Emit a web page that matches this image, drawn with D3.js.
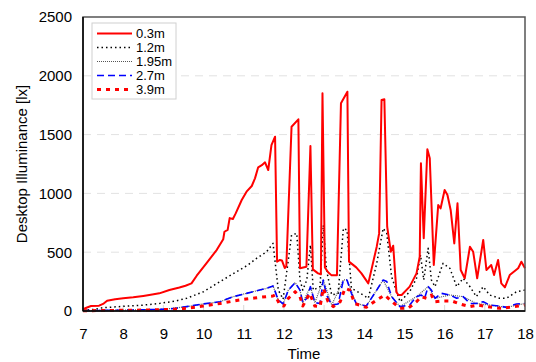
<!DOCTYPE html>
<html>
<head>
<meta charset="utf-8">
<script src="https://cdn.jsdelivr.net/npm/d3@7"></script>
<style>
  body { margin: 0; background: #fff; }
  svg text { font-family: "Liberation Sans", Arial, sans-serif; fill: #000; }
</style>
</head>
<body>
<svg id="chart" width="536" height="362"></svg>
<script>
// sensor distance from window
const seriesNames = ["0.3m", "1.2m", "1.95m", "2.7m", "3.9m"];
const xTicks = [7, 8, 9, 10, 11, 12, 13, 14, 15, 16, 17, 18];
const yTicks = [0, 500, 1000, 1500, 2000, 2500];

// 0.3m
const time03 = [7.0, 7.1, 7.2, 7.4, 7.5, 7.6, 7.8, 8.0, 8.25, 8.5, 8.65, 8.9, 9.15, 9.4, 9.55, 9.7, 9.83, 10.07, 10.33, 10.49, 10.52, 10.6, 10.65, 10.73, 10.8, 10.95, 11.07, 11.2, 11.28, 11.36, 11.45, 11.53, 11.61, 11.69, 11.78, 11.83, 11.9, 11.95, 12.02, 12.06, 12.19, 12.36, 12.4, 12.56, 12.66, 12.72, 12.85, 12.92, 12.96, 13.02, 13.1, 13.18, 13.32, 13.42, 13.58, 13.62, 13.8, 13.93, 14.1, 14.31, 14.37, 14.43, 14.5, 14.57, 14.66, 14.72, 14.8, 14.85, 14.93, 15.13, 15.3, 15.38, 15.41, 15.48, 15.57, 15.63, 15.73, 15.84, 15.9, 16.0, 16.07, 16.15, 16.24, 16.32, 16.4, 16.5, 16.63, 16.71, 16.81, 16.96, 17.04, 17.16, 17.23, 17.33, 17.41, 17.5, 17.62, 17.83, 17.91, 18.0];
const lux03 = [15, 30, 42, 45, 60, 88, 100, 108, 116, 128, 136, 150, 178, 200, 215, 235, 300, 405, 520, 610, 674, 690, 790, 782, 830, 944, 1015, 1063, 1128, 1222, 1240, 1264, 1199, 1411, 1482, 419, 434, 430, 366, 380, 1567, 1630, 363, 377, 1403, 354, 320, 312, 1851, 370, 330, 305, 305, 1766, 1865, 420, 371, 320, 235, 547, 660, 1794, 1800, 717, 504, 555, 160, 136, 136, 207, 320, 462, 1256, 618, 1375, 1298, 391, 901, 873, 1029, 986, 859, 575, 916, 349, 278, 547, 504, 278, 604, 349, 391, 306, 434, 235, 201, 306, 363, 419, 363];

// 1.2m
const time12 = [7.0, 7.3, 7.5, 8.1, 8.5, 8.92, 9.3, 9.58, 10.0, 10.41, 10.82, 11.1, 11.32, 11.57, 11.73, 11.86, 11.98, 12.11, 12.19, 12.32, 12.4, 12.47, 12.57, 12.66, 12.73, 12.9, 12.98, 13.06, 13.19, 13.35, 13.48, 13.57, 13.68, 13.97, 14.1, 14.31, 14.47, 14.56, 14.68, 14.89, 15.13, 15.3, 15.4, 15.48, 15.59, 15.67, 15.76, 15.96, 16.13, 16.3, 16.46, 16.63, 16.79, 16.96, 17.12, 17.37, 17.54, 17.79, 18.0];
const lux12 = [5, 15, 28, 42, 50, 65, 85, 108, 164, 250, 334, 390, 448, 504, 575, 178, 100, 434, 646, 660, 264, 178, 264, 561, 178, 207, 731, 349, 136, 150, 703, 689, 193, 136, 108, 405, 703, 660, 292, 79, 164, 278, 476, 264, 533, 264, 207, 405, 363, 207, 278, 207, 122, 207, 136, 108, 108, 164, 178];

// 1.95m (mostly hidden under the 2.7m / 3.9m lines)
const time195 = [7.0, 8.0, 9.0, 9.58, 9.99, 10.41, 10.74, 11.07, 11.57, 11.73, 11.86, 11.98, 12.11, 12.28, 12.4, 12.47, 12.66, 12.77, 12.98, 13.19, 13.48, 13.57, 13.8, 14.05, 14.31, 14.47, 14.68, 14.89, 15.3, 15.59, 15.76, 16.13, 16.46, 16.79, 17.12, 17.54, 18.0];
const lux195 = [3, 8, 14, 37, 60, 79, 122, 150, 193, 213, 94, 60, 178, 241, 178, 71, 207, 71, 264, 51, 264, 264, 64, 42, 178, 264, 122, 37, 122, 207, 108, 136, 122, 64, 51, 31, 64];

// 2.7m
const time27 = [7.0, 7.5, 8.0, 8.5, 8.92, 9.3, 9.58, 9.99, 10.41, 10.74, 11.07, 11.57, 11.73, 11.86, 11.98, 12.11, 12.28, 12.4, 12.47, 12.57, 12.66, 12.77, 12.9, 12.98, 13.06, 13.19, 13.35, 13.48, 13.57, 13.68, 13.8, 14.05, 14.31, 14.47, 14.56, 14.68, 14.89, 15.13, 15.3, 15.42, 15.5, 15.59, 15.67, 15.76, 15.92, 16.13, 16.3, 16.46, 16.63, 16.79, 16.96, 17.12, 17.37, 17.54, 17.79, 18.0];
const lux27 = [3, 5, 8, 10, 14, 22, 37, 60, 79, 122, 150, 193, 213, 94, 60, 178, 241, 178, 71, 108, 207, 71, 64, 264, 136, 51, 60, 264, 264, 150, 64, 42, 178, 264, 250, 122, 37, 51, 122, 136, 108, 207, 178, 108, 150, 136, 108, 122, 64, 64, 79, 51, 42, 31, 60, 64];

// 3.9m
const time39 = [7.0, 7.5, 8.0, 8.5, 9.0, 9.3, 9.58, 9.99, 10.41, 10.9, 11.4, 11.73, 11.78, 11.9, 12.0, 12.11, 12.28, 12.4, 12.47, 12.64, 12.77, 12.9, 12.98, 13.1, 13.23, 13.4, 13.52, 13.64, 13.76, 14.05, 14.31, 14.51, 14.64, 14.89, 15.09, 15.3, 15.42, 15.55, 15.67, 15.76, 15.96, 16.17, 16.38, 16.63, 16.83, 17.04, 17.37, 17.62, 17.83, 18.0];
const lux39 = [2, 4, 6, 8, 12, 16, 23, 42, 64, 94, 116, 128, 136, 51, 42, 108, 164, 122, 42, 150, 42, 37, 193, 79, 37, 79, 193, 178, 64, 31, 94, 136, 94, 23, 23, 79, 122, 108, 136, 79, 86, 86, 60, 37, 51, 37, 23, 31, 42, 51];

const series = [
  { name: seriesNames[2], t: time195, v: lux195, color: "#555", width: 1.2, dash: "1 1" },
  { name: seriesNames[1], t: time12, v: lux12, color: "#000", width: 1.5, dash: "1.5 3" },
  { name: seriesNames[3], t: time27, v: lux27, color: "#0000ff", width: 1.6, dash: "7 4" },
  { name: seriesNames[4], t: time39, v: lux39, color: "#ff0000", width: 3, dash: "4 5" },
  { name: seriesNames[0], t: time03, v: lux03, color: "#ff0000", width: 2, dash: null }
];

const margin = { top: 17, right: 11, bottom: 51, left: 83 };
const width = 536 - margin.left - margin.right;
const height = 362 - margin.top - margin.bottom;

const svg = d3.select("#chart");
const g = svg.append("g")
  .attr("transform", `translate(${margin.left},${margin.top})`);

const xScale = d3.scaleLinear().domain([7, 18]).range([0, width]);
const yScale = d3.scaleLinear().domain([0, 2500]).range([height, 0]);

// horizontal dashed grid
g.append("g")
  .selectAll("line")
  .data(yTicks.filter(d => d > 0 && d < 2500))
  .join("line")
  .attr("x1", 0)
  .attr("x2", width)
  .attr("y1", d => yScale(d))
  .attr("y2", d => yScale(d))
  .attr("stroke", "#e2e2e2")
  .attr("stroke-dasharray", "8 6");

// faint inner hour ticks
g.append("g")
  .selectAll("line")
  .data(xTicks.slice(1, -1))
  .join("line")
  .attr("x1", d => xScale(d))
  .attr("x2", d => xScale(d))
  .attr("y1", height)
  .attr("y2", height - 6)
  .attr("stroke", "#d8d8d8");

// lines
const line = d3.line()
  .x(d => xScale(d[0]))
  .y(d => yScale(d[1]));

series.forEach(s => {
  g.append("path")
    .datum(s.t.map((t, i) => [t, s.v[i]]))
    .attr("fill", "none")
    .attr("stroke", s.color)
    .attr("stroke-width", s.width)
    .attr("stroke-dasharray", s.dash)
    .attr("stroke-linejoin", "round")
    .attr("d", line);
});

// frame: dark top/right, black left/bottom
g.append("rect")
  .attr("width", width)
  .attr("height", height)
  .attr("fill", "none")
  .attr("stroke", "#555")
  .attr("stroke-width", 1.5);
g.append("line").attr("x1", 0).attr("x2", 0).attr("y1", 0).attr("y2", height)
  .attr("stroke", "#000").attr("stroke-width", 1.5);
g.append("line").attr("x1", 0).attr("x2", width).attr("y1", height).attr("y2", height)
  .attr("stroke", "#000").attr("stroke-width", 1.5);

// axes (labels only)
const xAxis = g.append("g")
  .attr("transform", `translate(0,${height})`)
  .call(d3.axisBottom(xScale).tickValues(xTicks).tickSize(0).tickPadding(17).tickFormat(d3.format("d")));
const yAxis = g.append("g")
  .call(d3.axisLeft(yScale).tickValues(yTicks).tickSize(0).tickPadding(11).tickFormat(d3.format("d")));
[xAxis, yAxis].forEach(a => {
  a.select(".domain").remove();
  a.selectAll("text").style("font-size", "15px").style("font-family", '"Liberation Sans", Arial, sans-serif').attr("fill", "#000");
});

// axis titles
svg.append("text")
  .attr("x", margin.left + width / 2)
  .attr("y", 359)
  .attr("text-anchor", "middle")
  .style("font-size", "15px")
  .text("Time");

svg.append("text")
  .attr("transform", `translate(27,${margin.top + height / 2}) rotate(-90)`)
  .attr("text-anchor", "middle")
  .style("font-size", "15px")
  .text("Desktop Illuminance  [lx]");

// legend
const legendItems = [series[4], series[1], series[0], series[2], series[3]];
const legend = svg.append("g").attr("transform", "translate(92,23)");
legend.append("rect")
  .attr("width", 84)
  .attr("height", 76)
  .attr("fill", "#fff")
  .attr("stroke", "#d0d0d0");
legendItems.forEach((s, i) => {
  const yy = 10.5 + i * 14;
  legend.append("line")
    .attr("x1", 5).attr("x2", 40)
    .attr("y1", yy).attr("y2", yy)
    .attr("stroke", s.color)
    .attr("stroke-width", s.width)
    .attr("stroke-dasharray", s.dash);
  legend.append("text")
    .attr("x", 44)
    .attr("y", yy + 4.5)
    .style("font-size", "13px")
    .text(s.name);
});
</script>
</body>
</html>
